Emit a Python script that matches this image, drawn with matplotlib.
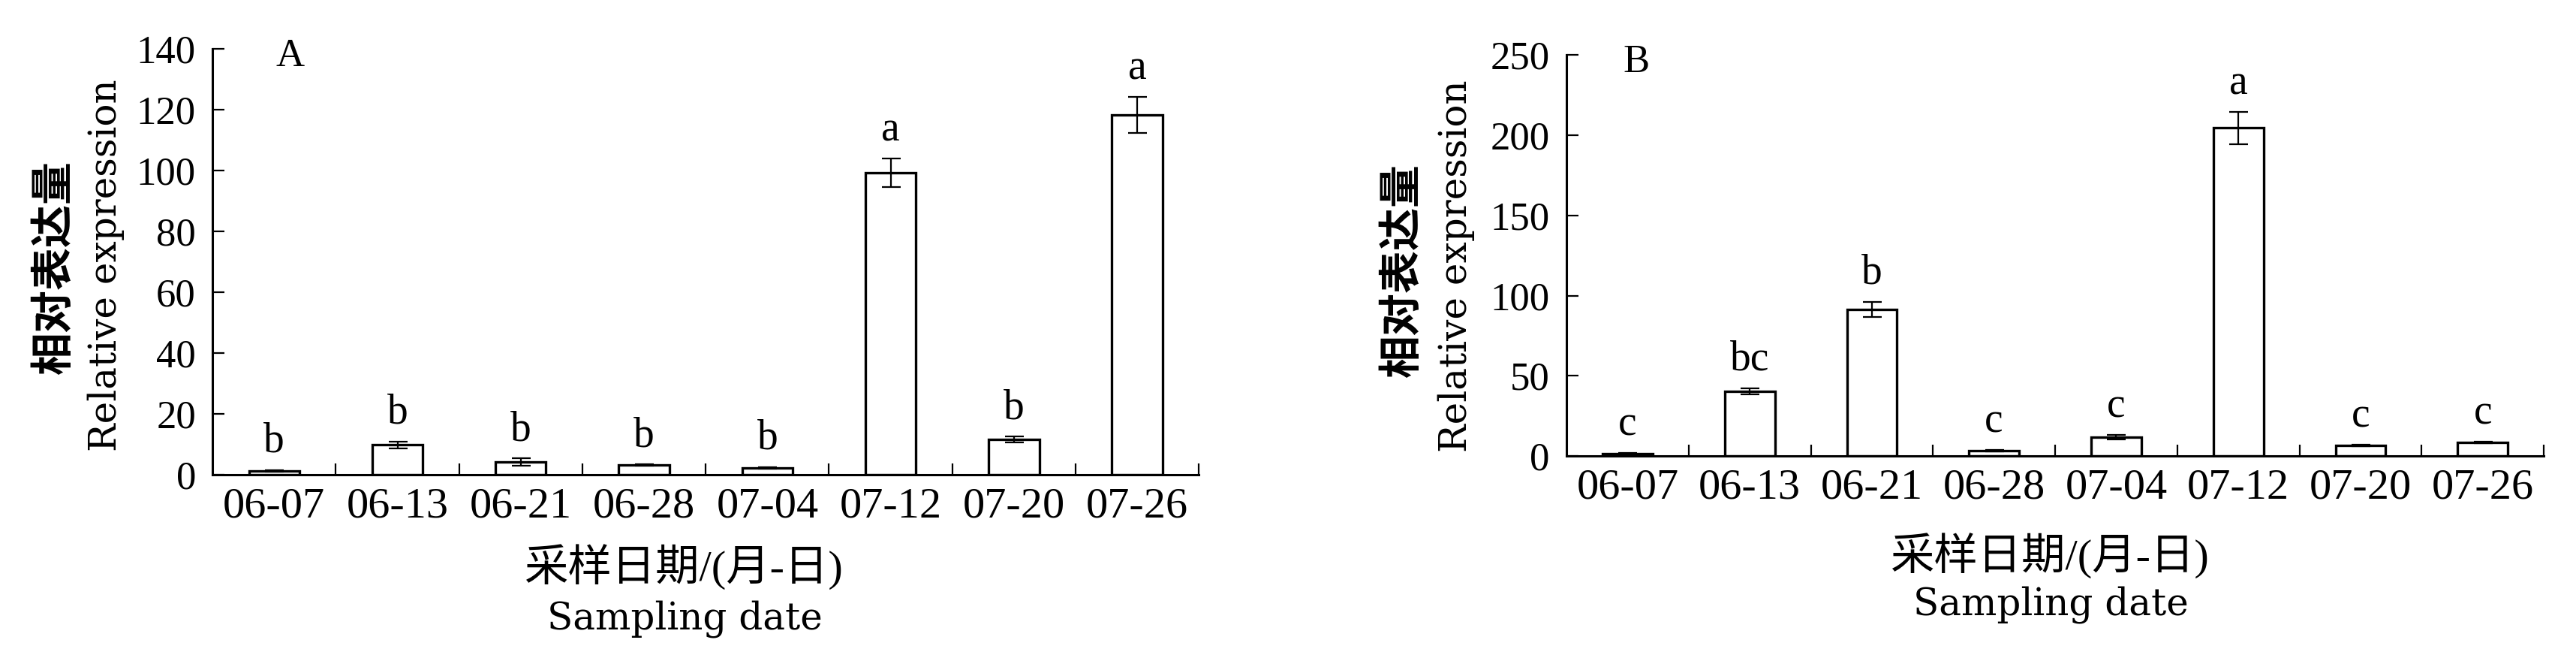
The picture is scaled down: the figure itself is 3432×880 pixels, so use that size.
import matplotlib
matplotlib.use("Agg")
import matplotlib.pyplot as plt
import numpy as np

plt.rcParams['font.family'] = ['Liberation Serif', 'Noto Sans CJK SC']

# sampling dates (month-day)
dates = ["06-07", "06-13", "06-21", "06-28", "07-04", "07-12", "07-20", "07-26"]

# panel A: relative expression, error, significance letters
exprA = [1.2, 9.7, 4.1, 3.1, 2.2, 99.3, 11.5, 118.3]
errA = [0.3, 1.2, 1.2, 0.3, 0.3, 4.6, 1.0, 5.9]
letA = ["b", "b", "b", "b", "b", "a", "b", "a"]
ticksA = [0, 20, 40, 60, 80, 100, 120, 140]

# panel B
exprB = [1.5, 40.5, 91.5, 3.4, 11.8, 204.6, 6.6, 8.7]
errB = [0.4, 2.0, 4.8, 0.4, 1.5, 10.0, 0.4, 0.4]
letB = ["c", "bc", "b", "c", "c", "a", "c", "c"]
ticksB = [0, 50, 100, 150, 200, 250]

ylabCn = "相对表达量"
ylabEn = "Relative expression"
xlabCn = "采样日期/(月-日)"
xlabEn = "Sampling date"

# english axis titles are wider in the original, DejaVu Serif is closer
enFont = ['DejaVu Serif', 'Noto Sans CJK SC']


def drawPanel(ax, vals, errs, letters, yticks):
    """ bar chart with error bars and letters """
    x = np.arange(len(dates))
    ax.bar(x, vals, width=0.41, color="white", edgecolor="black",
           linewidth=2.4, zorder=2)
    ax.errorbar(x, vals, yerr=errs, fmt="none", ecolor="black",
                elinewidth=1.6, capsize=9, capthick=1.6, zorder=3)
    for xi, v, e, l in zip(x, vals, errs, letters):
        ax.annotate(l, xy=(xi, v + e), xytext=(0, 17),
                    textcoords="offset points", ha="center",
                    va="baseline", fontsize=40)

    ax.set_xlim(-0.5, len(dates) - 0.5)
    ax.set_ylim(yticks[0], yticks[-1])
    ax.set_yticks(yticks)
    ax.set_xticks(x)
    ax.set_xticklabels(dates)
    ax.set_xticks(np.arange(0.5, len(dates), 1), minor=True)

    ax.tick_params(axis="x", which="major", length=0, pad=12, labelsize=42)
    ax.tick_params(axis="x", which="minor", direction="in", length=11,
                   width=1.6)
    ax.tick_params(axis="y", direction="in", length=11.5, width=1.6,
                   pad=16, labelsize=38)
    for s in ["top", "right"]:
        ax.spines[s].set_visible(False)
    for s in ["left", "bottom"]:
        ax.spines[s].set_linewidth(2.2)


fig = plt.figure(figsize=(34.32, 8.8), dpi=100)

axA = fig.add_axes([0.0825, 0.2822, 0.3829, 0.6436])
drawPanel(axA, exprA, errA, letA, ticksA)

axB = fig.add_axes([0.6081, 0.3099, 0.3794, 0.6068])
drawPanel(axB, exprB, errB, letB, ticksB)

# panel tags
fig.text(0.1125, 0.9148, "A", ha="center", va="center", fontsize=38)
fig.text(0.6352, 0.9057, "B", ha="center", va="center", fontsize=38)

# y labels
fig.text(0.0216, 0.5955, ylabCn, rotation=90, ha="center", va="center",
         fontsize=41, fontweight="bold")
fig.text(0.0412, 0.599, ylabEn, rotation=90, ha="center", va="center",
         fontsize=36, family=enFont)
fig.text(0.5449, 0.591, ylabCn, rotation=90, ha="center", va="center",
         fontsize=41, fontweight="bold")
fig.text(0.5653, 0.598, ylabEn, rotation=90, ha="center", va="center",
         fontsize=36, family=enFont)

# x labels
fig.text(0.2654, 0.142, xlabCn, ha="center", va="center", fontsize=42)
fig.text(0.266, 0.0636, xlabEn, ha="center", va="center", fontsize=36,
         family=enFont)
fig.text(0.7957, 0.159, xlabCn, ha="center", va="center", fontsize=42)
fig.text(0.7963, 0.0852, xlabEn, ha="center", va="center", fontsize=36,
         family=enFont)

fig.savefig("out.png", dpi=100, facecolor="white")
